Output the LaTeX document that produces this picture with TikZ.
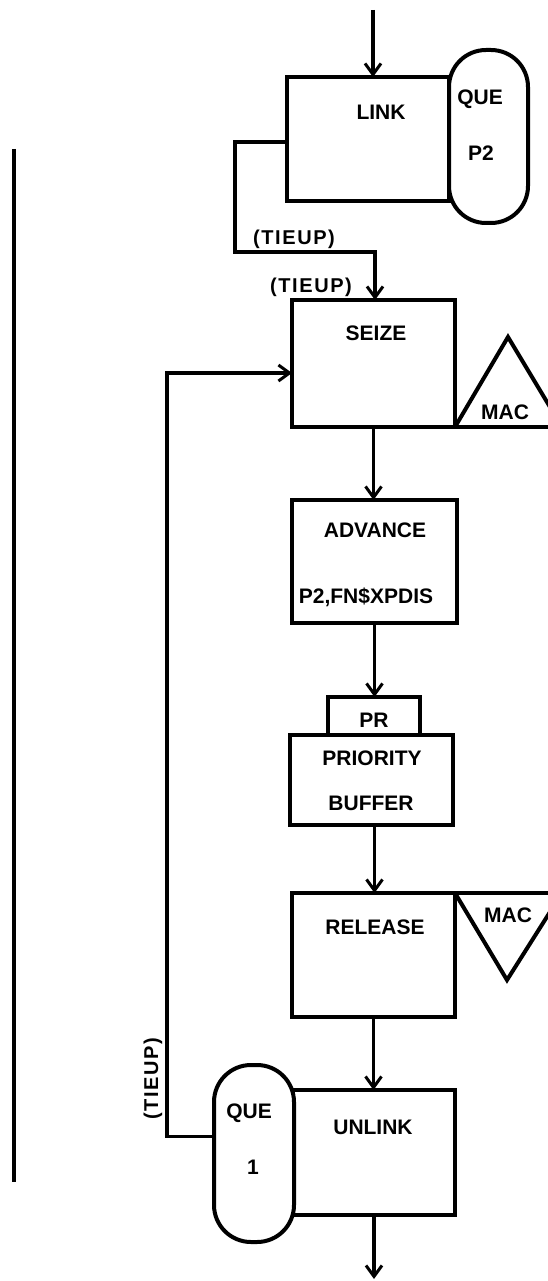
\documentclass[tikz,border=0pt]{standalone}
\usepackage{fontspec}
\setmainfont{Liberation Sans}
\newfontfamily\spacedfont{Liberation Sans}[LetterSpace=8]
\usetikzlibrary{arrows.meta}
\begin{document}
\begin{tikzpicture}[x=1pt,y=-1pt,
  box/.style={draw,line width=4pt,minimum width=#1,outer sep=0pt,inner sep=0pt},
  capsule/.style={draw,line width=4pt,rounded corners=37pt,outer sep=0pt,inner sep=0pt},
  lbl/.style={font=\fontsize{21}{21}\bfseries\selectfont,inner sep=0pt},
  tlbl/.style={font=\spacedfont\fontsize{20}{20}\bfseries\selectfont,inner sep=0pt},
  arr/.style={line width=3.4pt,-{Straight Barb[length=11pt,width=16pt,line width=3pt]}}]
\useasboundingbox (0,0) rectangle (547,1281);
% boxes
\node[box=162pt,minimum height=124pt] (link) at (368,139) {};
\node[capsule,minimum width=79pt,minimum height=173pt] (que2) at (488.5,136.5) {};
\node[box=163pt,minimum height=127pt] (seize) at (373.5,363.5) {};
\node[box=165pt,minimum height=123pt] (advance) at (374.5,561.5) {};
\node[box=92pt,minimum height=38pt] (pr) at (374,716) {};
\node[box=163pt,minimum height=90pt] (priority) at (371.5,780) {};
\node[box=163pt,minimum height=124pt] (release) at (373.5,955) {};
\node[box=162pt,minimum height=125pt] (unlink) at (374,1152.5) {};
\node[capsule,fill=white,minimum width=80pt,minimum height=177pt] (que1) at (254,1153.5) {};
% texts
\node[lbl] (tlink) at (381,112) {LINK};
\node[lbl] (tque2) at (480,99) {QUE};
\node[lbl] (tp2) at (481,153) {P2};
\node[tlbl] (ttie1) at (294,239) {(TIEUP)};
\node[tlbl] (ttie2) at (311,287) {(TIEUP)};
\node[lbl] (tseize) at (376,333) {SEIZE};
\node[lbl] (tmac1) at (505,412) {MAC};
\node[lbl] (tadv) at (375,530) {ADVANCE};
\node[lbl] (tfn) at (366,597) {P2,FN\$XPDIS};
\node[lbl] (tpr) at (374,720) {PR};
\node[lbl] (tprio) at (372,758) {PRIORITY};
\node[lbl] (tbuf) at (371,803) {BUFFER};
\node[lbl] (trel) at (375,927) {RELEASE};
\node[lbl] (tmac2) at (508,915) {MAC};
\node[lbl] (tunl) at (373,1127) {UNLINK};
\node[lbl] (tque1) at (249,1113) {QUE};
\node[lbl] (tone) at (253,1167) {1};
\node[tlbl,rotate=90] (ttie3) at (153,1079) {(TIEUP)};
% triangles
\coordinate (mac1apex) at (508,337);
\coordinate (mac1r) at (562,427);
\draw[line width=4pt] (seize.south east) -- (mac1apex) -- (mac1r);
\draw[line width=4pt] (seize.south east) -- (mac1r);
\coordinate (mac2apex) at (507,980);
\coordinate (mac2r) at (562,893);
\draw[line width=4pt] (release.north east) -- (mac2apex) -- (mac2r);
\draw[line width=4pt] (release.north east) -- (mac2r);
% connectors
\coordinate (top) at (373,10);
\draw[arr] (top) -- (top |- link.north);
\coordinate (t1) at (235,252);
\draw[arr] ([yshift=-3pt]link.west) -| (t1) -| ([xshift=1.5pt]seize.north);
\draw[arr] (seize.south) -- (seize.south |- advance.north);
\draw[arr] (advance.south) -- (advance.south |- pr.north);
\draw[arr] ([xshift=3pt]priority.south) -- ([xshift=3pt]priority.south |- release.north);
\draw[arr] (release.south) -- (release.south |- unlink.north);
\coordinate (bot) at (375,1279);
\draw[arr] (unlink.south) -- (unlink.south |- bot);
\coordinate (fb) at (167,373);
\draw[arr] ([yshift=17pt]que1.west) -| (fb) -- (fb -| seize.west);
% left rule
\coordinate (r1) at (14,149);
\coordinate (r2) at (14,1182);
\draw[line width=3.5pt] (r1) -- (r2);
\end{tikzpicture}
\end{document}
